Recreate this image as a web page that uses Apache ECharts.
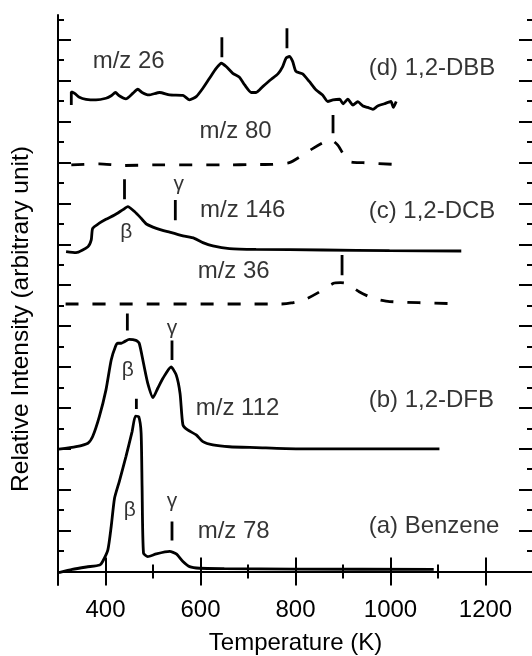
<!DOCTYPE html>
<html>
<head>
<meta charset="utf-8">
<script src="https://cdn.jsdelivr.net/npm/echarts@6/dist/echarts.min.js"></script>
<style>
html, body { margin: 0; padding: 0; background: #fff; }
#chart { width: 532px; height: 656px; }
</style>
</head>
<body>
<div id="chart"></div>
<script>
// temperature (K), relative intensity (offset units, one unit per y tick)
const benzene78 = [[302, -0.05], [330, 0.1], [360, 0.22], [388, 0.32], [394, 0.49], [405, 1.06], [412, 2.2], [419, 3.58], [429, 4.4], [443, 5.62], [456, 6.84], [463, 7.6], [470, 7.57], [475, 6.76], [477, 4.15], [480, 0.9], [489, 0.73], [507, 0.86], [535, 0.98], [549, 0.86], [563, 0.49], [577, 0.24], [598, 0.16], [650, 0.14], [800, 0.12], [1091, 0.1]];
const dfb112 = [[302, 5.98], [338, 6.1], [363, 6.27], [373, 6.6], [387, 7.57], [401, 8.88], [412, 10.34], [421, 11.0], [426, 11.16], [433, 11.16], [440, 11.24], [450, 11.35], [464, 11.3], [471, 11.16], [480, 10.18], [489, 9.2], [500, 8.5], [510, 8.96], [521, 9.45], [538, 10.0], [549, 9.6], [557, 8.7], [563, 7.17], [573, 6.92], [591, 6.68], [605, 6.35], [626, 6.19], [661, 6.1], [717, 6.06], [801, 6.0], [1103, 6.0]];
const dcb36 = [[316, 13.08], [500, 13.08], [700, 13.08], [770, 13.08], [791, 13.13], [820, 13.3], [845, 13.6], [880, 14.09], [895, 14.12], [906, 14.09], [934, 13.68], [963, 13.36], [998, 13.2], [1127, 13.1]];
const dcb146 = [[317, 15.64], [338, 15.59], [363, 15.88], [370, 16.21], [373, 16.78], [387, 17.03], [401, 17.22], [419, 17.43], [436, 17.68], [447, 17.84], [461, 17.6], [475, 17.27], [486, 16.99], [507, 16.78], [535, 16.59], [563, 16.41], [587, 16.29], [605, 16.08], [626, 15.92], [661, 15.79], [717, 15.75], [858, 15.72], [998, 15.69], [1149, 15.67]];
const dbb80 = [[328, 19.88], [387, 19.93], [436, 19.85], [507, 19.88], [647, 19.88], [717, 19.9], [752, 19.91], [787, 19.99], [815, 20.36], [837, 20.69], [858, 20.97], [875, 21.1], [889, 20.85], [900, 20.44], [914, 20.04], [942, 19.99], [1012, 19.9]];
const dbb26 = [[328, 22.81], [328, 23.46], [335, 23.38], [345, 23.19], [359, 23.09], [380, 23.06], [401, 23.14], [412, 23.26], [421, 23.42], [429, 23.26], [443, 23.11], [458, 23.39], [468, 23.58], [477, 23.42], [491, 23.3], [514, 23.42], [535, 23.3], [563, 23.28], [577, 23.06], [591, 23.22], [605, 23.63], [619, 24.12], [633, 24.6], [644, 24.85], [654, 24.69], [668, 24.36], [682, 24.17], [693, 23.79], [707, 23.42], [717, 23.42], [731, 23.71], [749, 24.07], [763, 24.33], [773, 24.69], [780, 25.1], [787, 25.18], [794, 24.94], [801, 24.45], [815, 24.33], [829, 23.96], [843, 23.55], [857, 23.3], [868, 22.98], [879, 23.06], [893, 23.09], [900, 22.87], [910, 23.09], [921, 22.81], [931, 22.97], [942, 22.76], [952, 22.69], [963, 22.6], [973, 22.76], [987, 22.87], [1001, 22.98], [1006, 22.69], [1012, 22.98]];

// peak markers: [temperature, y from, y to]
const peakMarks = [[465, 7.95, 8.45], [540, 1.51, 2.44], [446, 11.78, 12.62], [540, 10.34, 11.29], [898, 14.49, 15.47], [440, 18.2, 19.18], [547, 17.18, 18.16], [879, 21.43, 22.32], [645, 25.14, 26.12], [782, 25.58, 26.56]];

// text labels: [temperature (left edge), y (middle), text]
const traceLabels = [[594, 1.95, 'm/z 78'], [954, 2.2, '(a) Benzene'], [590, 7.98, 'm/z 112'], [954, 8.39, '(b) 1,2-DFB'], [594, 14.66, 'm/z 36'], [599, 17.68, 'm/z 146'], [954, 17.6, '(c) 1,2-DCB'], [598, 21.5, 'm/z 80'], [373, 24.93, 'm/z 26'], [954, 24.6, '(d) 1,2-DBB']];
// greek labels: [temperature (centre), y (middle), text]
const greekLabels = [[451, 3.0, 'β'], [540, 3.42, 'γ'], [447, 9.85, 'β'], [540, 11.89, 'γ'], [444, 16.57, 'β'], [554, 18.95, 'γ']];

const xMajor = [400, 600, 800, 1000, 1200];
const yMajor = [0, 2, 4, 6, 8, 10, 12, 14, 16, 18, 20, 22, 24, 26];
const yMinor = [1, 3, 5, 7, 9, 11, 13, 15, 17, 19, 21, 23, 25, 27];

const FONT = '"Liberation Sans", Arial, Helvetica, sans-serif';
const black = '#000';

const myChart = echarts.init(document.getElementById('chart'));

const xBase = { type: 'value', min: 300, max: 1300, splitLine: { show: false } };
const yBase = { type: 'value', min: -0.66, max: 27.21, splitLine: { show: false } };
const lineAx = { show: true, lineStyle: { color: black, width: 2 } };

const xAxes = [
    { ...xBase, position: 'bottom', interval: 100, axisLine: lineAx, axisTick: { inside: true, length: 7, lineStyle: { color: black, width: 2 } }, axisLabel: { show: false } },
    {
        ...xBase, position: 'bottom', axisLine: { show: false },
        axisTick: { inside: true, length: 14, customValues: xMajor, lineStyle: { color: black, width: 2 } },
        axisLabel: { customValues: xMajor, formatter: v => String(v), color: black, fontSize: 24, fontFamily: FONT, margin: 13 },
        name: 'Temperature (K)', nameLocation: 'middle', nameGap: 46,
        nameTextStyle: { color: black, fontSize: 24, fontFamily: FONT }
    },
    { ...xBase, position: 'top', interval: 100, axisLine: lineAx, axisTick: { inside: true, length: 7, lineStyle: { color: black, width: 2 } }, axisLabel: { show: false } },
    { ...xBase, position: 'top', axisLine: { show: false }, axisTick: { inside: true, length: 14, customValues: xMajor, lineStyle: { color: black, width: 2 } }, axisLabel: { show: false } }
];

const yAxes = [
    {
        ...yBase, position: 'left', axisLine: lineAx,
        axisTick: { inside: true, length: 13, customValues: yMajor, lineStyle: { color: black, width: 2 } },
        axisLabel: { show: false },
        name: 'Relative Intensity (arbitrary unit)', nameLocation: 'middle', nameGap: 24,
        nameTextStyle: { color: black, fontSize: 24.5, fontFamily: FONT, padding: [0, 38, 0, 0] }
    },
    { ...yBase, position: 'left', axisLine: { show: false }, axisTick: { inside: true, length: 6, customValues: yMinor, lineStyle: { color: black, width: 2 } }, axisLabel: { show: false } },
    { ...yBase, position: 'right', axisLine: lineAx, axisTick: { inside: true, length: 14, customValues: yMajor, lineStyle: { color: black, width: 2 } }, axisLabel: { show: false } },
    { ...yBase, position: 'right', axisLine: { show: false }, axisTick: { inside: true, length: 6, customValues: yMinor, lineStyle: { color: black, width: 2 } }, axisLabel: { show: false } }
];

const trace = (data, dashed) => ({
    type: 'line', data: data, showSymbol: false, symbol: 'none', smooth: 0.2, silent: true,
    lineStyle: { color: black, width: 2.8, type: dashed ? [13, 14] : 'solid' }
});

const series = [
    trace(benzene78), trace(dfb112), trace(dcb36, true), trace(dcb146), trace(dbb80, true), trace(dbb26)
];

peakMarks.forEach(m => {
    series.push({
        type: 'line', data: [[m[0], m[1]], [m[0], m[2]]], showSymbol: false, symbol: 'none', silent: true,
        lineStyle: { color: black, width: 2.8 }
    });
});

series.push({
    type: 'scatter', symbolSize: 0, silent: true,
    data: traceLabels.map(d => ({ value: [d[0], d[1]], name: d[2] })),
    label: { show: true, position: 'right', distance: 0, formatter: '{b}', color: black, fontSize: 24, fontFamily: FONT }
});
series.push({
    type: 'scatter', symbolSize: 0, silent: true,
    data: greekLabels.map(d => ({ value: [d[0], d[1]], name: d[2] })),
    label: { show: true, position: 'inside', formatter: '{b}', color: black, fontSize: 21, fontFamily: FONT }
});

myChart.setOption({
    animation: false,
    textStyle: { fontFamily: FONT },
    grid: { left: 58, top: 15, width: 475, height: 570, containLabel: false, outerBoundsMode: 'none' },
    xAxis: xAxes,
    yAxis: yAxes,
    series: series
});
</script>
</body>
</html>
